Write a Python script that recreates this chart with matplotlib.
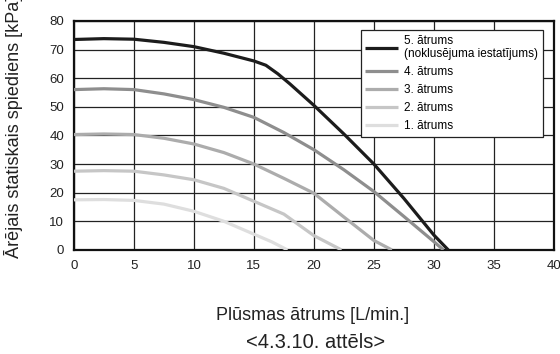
import matplotlib.pyplot as plt

plt.rcParams['font.family'] = ['Liberation Sans', 'DejaVu Sans']

# pump curves
x5 = [0, 2.5, 5, 7.5, 10, 12.5, 15, 16, 17, 18, 20, 22.5, 25, 27.5, 30, 31.2]
y5 = [73.5, 73.8, 73.6, 72.5, 71, 68.7, 66, 64.5, 61.5, 58, 50.5, 40.5, 30, 18, 5.2, 0]
x4 = [0, 2.5, 5, 7.5, 10, 12.5, 15, 17.5, 20, 22.5, 25, 27.5, 30, 30.8]
y4 = [56, 56.3, 56, 54.5, 52.5, 49.8, 46.3, 41, 35, 28, 20.4, 11.7, 2.9, 0]
x3 = [0, 2.5, 5, 7.5, 10, 12.5, 15, 17.5, 20, 22.5, 25, 26.5]
y3 = [40.3, 40.5, 40.3, 39, 37, 34, 30, 25, 19.8, 11.5, 3.3, 0]
x2 = [0, 2.5, 5, 7.5, 10, 12.5, 15, 17.5, 20, 22.3]
y2 = [27.5, 27.7, 27.5, 26.2, 24.5, 21.5, 17, 12.5, 5, 0]
x1 = [0, 2.5, 5, 7.5, 10, 12.5, 15, 16.5, 17.8]
y1 = [17.5, 17.6, 17.3, 16, 13.5, 10, 5.5, 2.8, 0]

labels = ['5. ātrums\n(noklusējuma iestatījums)', '4. ātrums', '3. ātrums',
          '2. ātrums', '1. ātrums']
colors = ['#1c1c1c', '#8e8e8e', '#acacac', '#c6c6c6', '#dedede']

fig = plt.figure(figsize=(5.6, 3.54), dpi=100)
ax = fig.add_axes([0.132, 0.294, 0.857, 0.647])

series = [(x5, y5), (x4, y4), (x3, y3), (x2, y2), (x1, y1)]
for (xs, ys), c, lab in zip(series, colors, labels):
    ax.plot(xs, ys, color=c, lw=2.3, label=lab, solid_joinstyle='round',
            solid_capstyle='butt', zorder=3)

ax.set_xlim(0, 40)
ax.set_ylim(0, 80)
ax.set_xticks(range(0, 41, 5))
ax.set_yticks(range(0, 81, 10))
ax.grid(True, color='#222222', lw=0.9)
ax.tick_params(length=0, labelsize=9.5, pad=7, labelcolor='#222222')
for s in ax.spines.values():
    s.set_linewidth(1.6)
    s.set_color('#111111')

leg = ax.legend(loc='upper right', bbox_to_anchor=(0.977, 0.961), borderaxespad=0,
                fontsize=8.5, frameon=True, fancybox=False, handlelength=2.8,
                labelspacing=0.5, handletextpad=0.48, borderpad=0.4)
leg.get_frame().set_edgecolor('#222222')
leg.get_frame().set_linewidth(0.9)
leg.get_frame().set_alpha(1)
leg.set_zorder(5)

fig.text(13.5 / 560, 1 - 258 / 354, 'Ārējais statiskais spiediens [kPa]',
         rotation=90, ha='center', va='bottom', fontsize=13, color='#222222')
fig.text(313 / 560, 1 - 315 / 354, 'Plūsmas ātrums [L/min.]', ha='center', va='center',
         fontsize=13, color='#222222')
fig.text(315.5 / 560, 1 - 342 / 354, '<4.3.10. attēls>', ha='center', va='center',
         fontsize=14.5, color='#222222')

fig.savefig('out.png', dpi=100)
